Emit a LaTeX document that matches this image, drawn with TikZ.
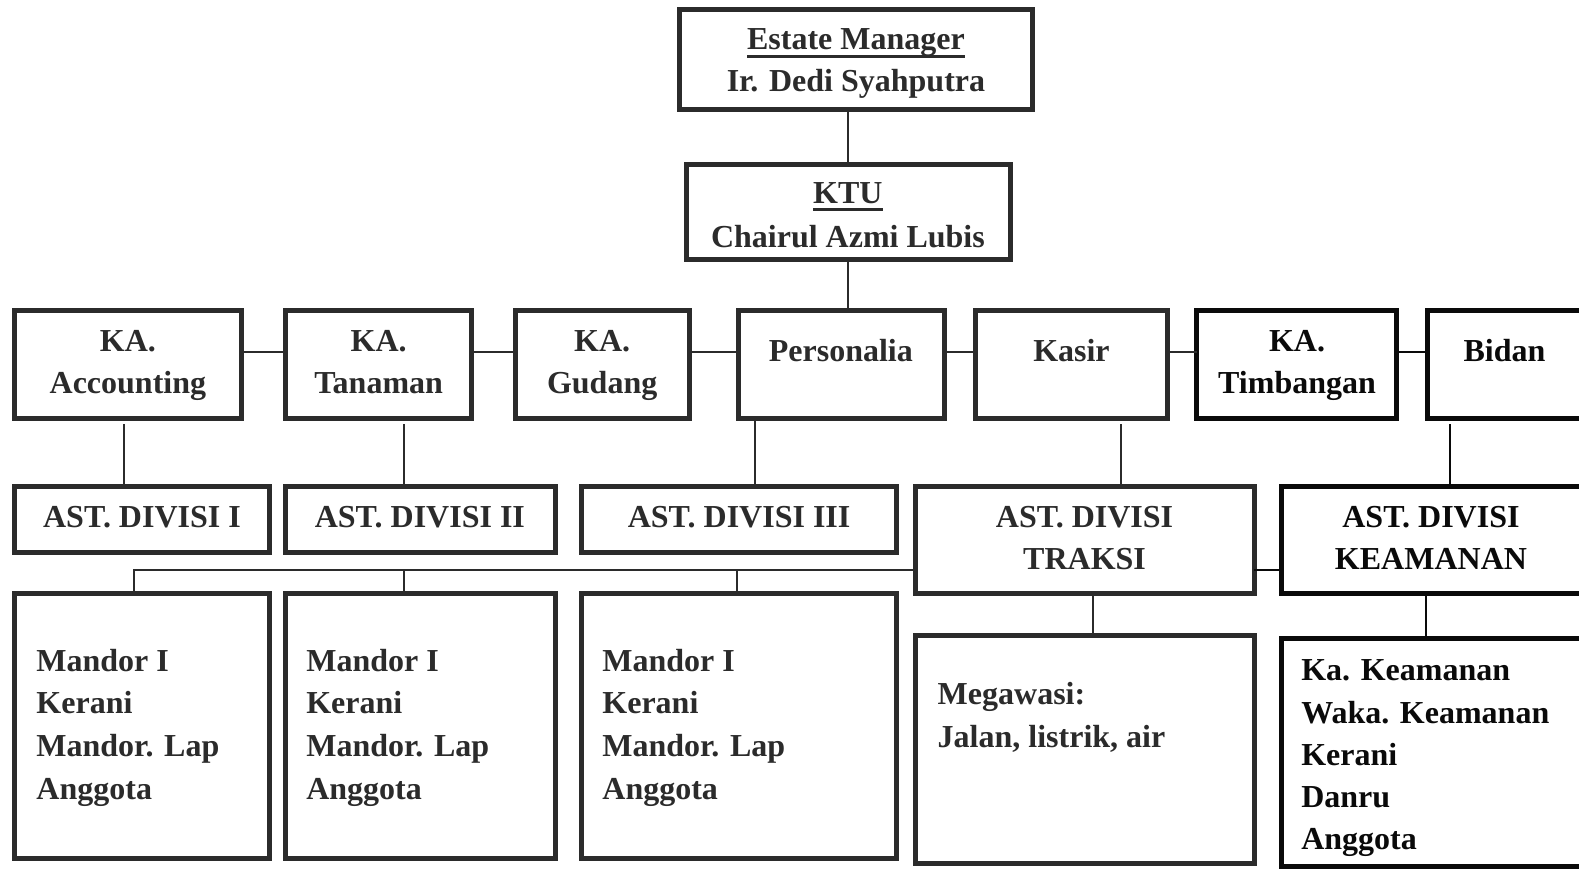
\documentclass[tikz,border=0pt]{standalone}
\usepackage{fontspec}
\setmainfont{Liberation Serif}
\definecolor{ink}{HTML}{2B2B2B}
\definecolor{inkb}{HTML}{0A0A0A}
\newcommand\myul[2]{\setbox0\hbox{#2}\rlap{\rule[-#1]{\wd0}{3pt}}\box0}
\begin{document}
\begin{tikzpicture}[x=1.00702pt, y=-1.00702pt,
  box/.style={draw=ink, line width=5pt, inner sep=0pt, outer sep=0pt, fill=white},
  boxb/.style={box, draw=inkb},
  wh/.style 2 args={minimum width=#1*1.00702pt, minimum height=#2*1.00702pt},
  conn/.style={draw=ink, line width=2pt},
  connb/.style={draw=inkb, line width=2pt},
  txt/.style={font=\fontsize{32}{42}\selectfont\bfseries, text=ink, inner sep=0pt, anchor=base},
  txtb/.style={txt, text=inkb},
  ltxt/.style={txt, anchor=base west},
  ltxtb/.style={txtb, anchor=base west}]
\useasboundingbox[fill=white] (0,0) rectangle (1568,865);

% boxes
\node[box, wh={351}{99}] (em) at (850,59) {};
\node[box, wh={322}{94}] (ktu) at (842.5,210.5) {};

\node[box, wh={225}{107}] (acc) at (127,362) {};
\node[box, wh={185}{107}] (tan) at (376,362) {};
\node[box, wh={173}{107}] (gud) at (598,362) {};
\node[box, wh={204}{107}] (per) at (835.5,362) {};
\node[box, wh={191}{107}] (kas) at (1064,362) {};
\node[boxb, wh={198}{107}] (tim) at (1287.5,362) {};
\node[boxb, wh={160}{107}] (bid) at (1497.5,362) {};

\node[box, wh={253}{65}] (ast1) at (141,516) {};
\node[box, wh={268}{65}] (ast2) at (417.5,516) {};
\node[box, wh={313}{65}] (ast3) at (734,516) {};
\node[box, wh={336}{106}] (traksi) at (1077.5,536.5) {};
\node[boxb, wh={307}{106}] (keam) at (1426,536.5) {};

\node[box, wh={253}{263}] (b1) at (141,721) {};
\node[box, wh={268}{263}] (b2) at (417.5,721) {};
\node[box, wh={313}{263}] (b3) at (734,721) {};
\node[box, wh={336}{226}] (mega) at (1077.5,744.5) {};
\node[boxb, wh={307}{226}] (klist) at (1426,747.5) {};

% helper coordinates
\coordinate (h2) at (0,350);
\coordinate (bus) at (0,566);
\coordinate (v1) at (123,0);
\coordinate (v2) at (401,0);
\coordinate (v3) at (750,0);
\coordinate (v4) at (1113,0);
\coordinate (v5) at (1440,0);
\coordinate (d1) at (133,0);
\coordinate (d2) at (401,0);
\coordinate (d3) at (732,0);
\coordinate (v6) at (1085,0);
\coordinate (v7) at (1416,0);

% connectors
\draw[conn] (ktu.north) -- (ktu.north |- em.south);
\draw[conn] (ktu.south) -- (ktu.south |- per.north);

\draw[conn] (acc.east |- h2) -- (tan.west |- h2);
\draw[conn] (tan.east |- h2) -- (gud.west |- h2);
\draw[conn] (gud.east |- h2) -- (per.west |- h2);
\draw[conn] (per.east |- h2) -- (kas.west |- h2);
\draw[conn] (kas.east |- h2) -- (tim.west |- h2);
\draw[connb] (tim.east |- h2) -- (bid.west |- h2);

\draw[conn, shorten <=6pt] (acc.south -| v1) -- (ast1.north -| v1);
\draw[conn, shorten <=6pt] (tan.south -| v2) -- (ast2.north -| v2);
\draw[conn, shorten <=2pt] (per.south -| v3) -- (ast3.north -| v3);
\draw[conn, shorten <=6pt] (kas.south -| v4) -- (traksi.north -| v4);
\draw[connb, shorten <=6pt] (bid.south -| v5) -- (keam.north -| v5);

\draw[conn] (traksi.west |- bus) -- (d1 |- bus) -- (b1.north -| d1);
\draw[conn] (d2 |- bus) -- (b2.north -| d2);
\draw[conn] (d3 |- bus) -- (b3.north -| d3);
\draw[connb] (traksi.east |- bus) -- (keam.west |- bus);

\draw[conn] (traksi.south -| v6) -- (mega.north -| v6);
\draw[connb] (keam.south -| v7) -- (klist.north -| v7);

% texts
\node[txt] (t-em1) at (850,49) {\myul{9pt}{Estate Manager}};
\node[txt] (t-em2) at (850,91) {Ir. Dedi Syahputra};
\node[txt] (t-ktu1) at (842,202.5) {\myul{7pt}{KTU}};
\node[txt] (t-ktu2) at (842,246) {Chairul Azmi Lubis};

\node[txt] (t-acc1) at (127,349) {KA.};
\node[txt] (t-acc2) at (127,391) {Accounting};
\node[txt] (t-tan1) at (376,349) {KA.};
\node[txt] (t-tan2) at (376,391) {Tanaman};
\node[txt] (t-gud1) at (598,349) {KA.};
\node[txt] (t-gud2) at (598,391) {Gudang};
\node[txt] (t-per) at (835,359) {Personalia};
\node[txt] (t-kas) at (1064,359) {Kasir};
\node[txtb] (t-tim1) at (1288,349) {KA.};
\node[txtb] (t-tim2) at (1288,391) {Timbangan};
\node[txtb] (t-bid) at (1494,359) {Bidan};

\node[txt] (t-ast1) at (141,524) {AST. DIVISI I};
\node[txt] (t-ast2) at (417,524) {AST. DIVISI II};
\node[txt] (t-ast3) at (734,524) {AST. DIVISI III};
\node[txt] (t-tr1) at (1077,524) {AST. DIVISI};
\node[txt] (t-tr2) at (1077,566) {TRAKSI};
\node[txtb] (t-ke1) at (1421,524) {AST. DIVISI};
\node[txtb] (t-ke2) at (1421,566) {KEAMANAN};

\node[ltxt] (t-b1a) at (36,667) {Mandor I};
\node[ltxt] (t-b1b) at (36,709) {Kerani};
\node[ltxt] (t-b1c) at (36,751) {Mandor. Lap};
\node[ltxt] (t-b1d) at (36,794) {Anggota};
\node[ltxt] (t-b2a) at (304,667) {Mandor I};
\node[ltxt] (t-b2b) at (304,709) {Kerani};
\node[ltxt] (t-b2c) at (304,751) {Mandor. Lap};
\node[ltxt] (t-b2d) at (304,794) {Anggota};
\node[ltxt] (t-b3a) at (598,667) {Mandor I};
\node[ltxt] (t-b3b) at (598,709) {Kerani};
\node[ltxt] (t-b3c) at (598,751) {Mandor. Lap};
\node[ltxt] (t-b3d) at (598,794) {Anggota};

\node[ltxt] (t-mg1) at (931,700) {Megawasi:};
\node[ltxt] (t-mg2) at (931,742) {Jalan, listrik, air};

\node[ltxtb] (t-k1) at (1292,676) {Ka. Keamanan};
\node[ltxtb] (t-k2) at (1292,718) {Waka. Keamanan};
\node[ltxtb] (t-k3) at (1292,760) {Kerani};
\node[ltxtb] (t-k4) at (1292,802) {Danru};
\node[ltxtb] (t-k5) at (1292,844) {Anggota};
\end{tikzpicture}
\end{document}
